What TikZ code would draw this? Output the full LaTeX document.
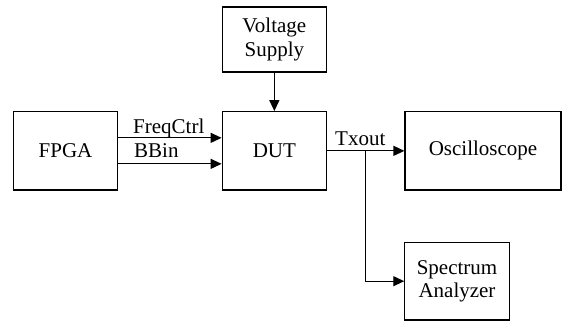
\documentclass[tikz,border=0pt]{standalone}
\usepackage{fontspec}
\setmainfont{Liberation Serif}
\usetikzlibrary{arrows.meta}

\tikzset{
  blockbox/.style={draw,line width=1.2pt,rectangle,align=center,inner sep=0pt,
    minimum width=104.3pt,minimum height=78.3pt},
  sigline/.style={line width=1.2pt,-{Triangle[length=11pt,width=10pt]}},
  siglabel/.style={anchor=base west,inner sep=0pt}
}

\begin{document}
\begin{tikzpicture}[x=1pt,y=-1pt,font=\fontsize{21}{23.5}\selectfont]
    \useasboundingbox (0,0) rectangle (562,321);

    \coordinate (c_fpga) at (65.5, 150.85);
    \coordinate (c_dut) at (274.35, 150.85);
    \coordinate (c_volt) at (274.35, 39.5);
    \coordinate (c_osc) at (483, 150.85);
    \coordinate (c_spec) at (457, 281.2);

    \node [blockbox] (fpga) at (c_fpga) {FPGA};
    \node [blockbox] (dut) at (c_dut) {DUT};
    \node [blockbox,minimum height=65pt] (volt) at (c_volt)
    {Voltage\\Supply};
    \node [blockbox,minimum width=156pt] (osc) at (c_osc) {Oscilloscope};
    \node [blockbox,minimum height=77.7pt] (spec) at (c_spec)
    {Spectrum\\Analyzer};

    \draw [sigline] ([yshift=13pt]fpga.east) -- ([yshift=13pt]dut.west);
    \draw [sigline] ([yshift=-13pt]fpga.east) -- ([yshift=-13pt]dut.west);
    \draw [sigline] (volt.south) -- (dut.north);
    \draw [sigline] (dut.east) -- (osc.west);

    \coordinate (branch) at (365.6, 150.85);
    \draw [sigline] (branch) |- (spec.west);

    \node [siglabel] (freqctrl) at (133, 133) {FreqCtrl};
    \node [siglabel] (bbin) at (134, 157) {BBin};
    \node [siglabel] (txout) at (335, 145) {Txout};
  \end{tikzpicture}
\end{document}
